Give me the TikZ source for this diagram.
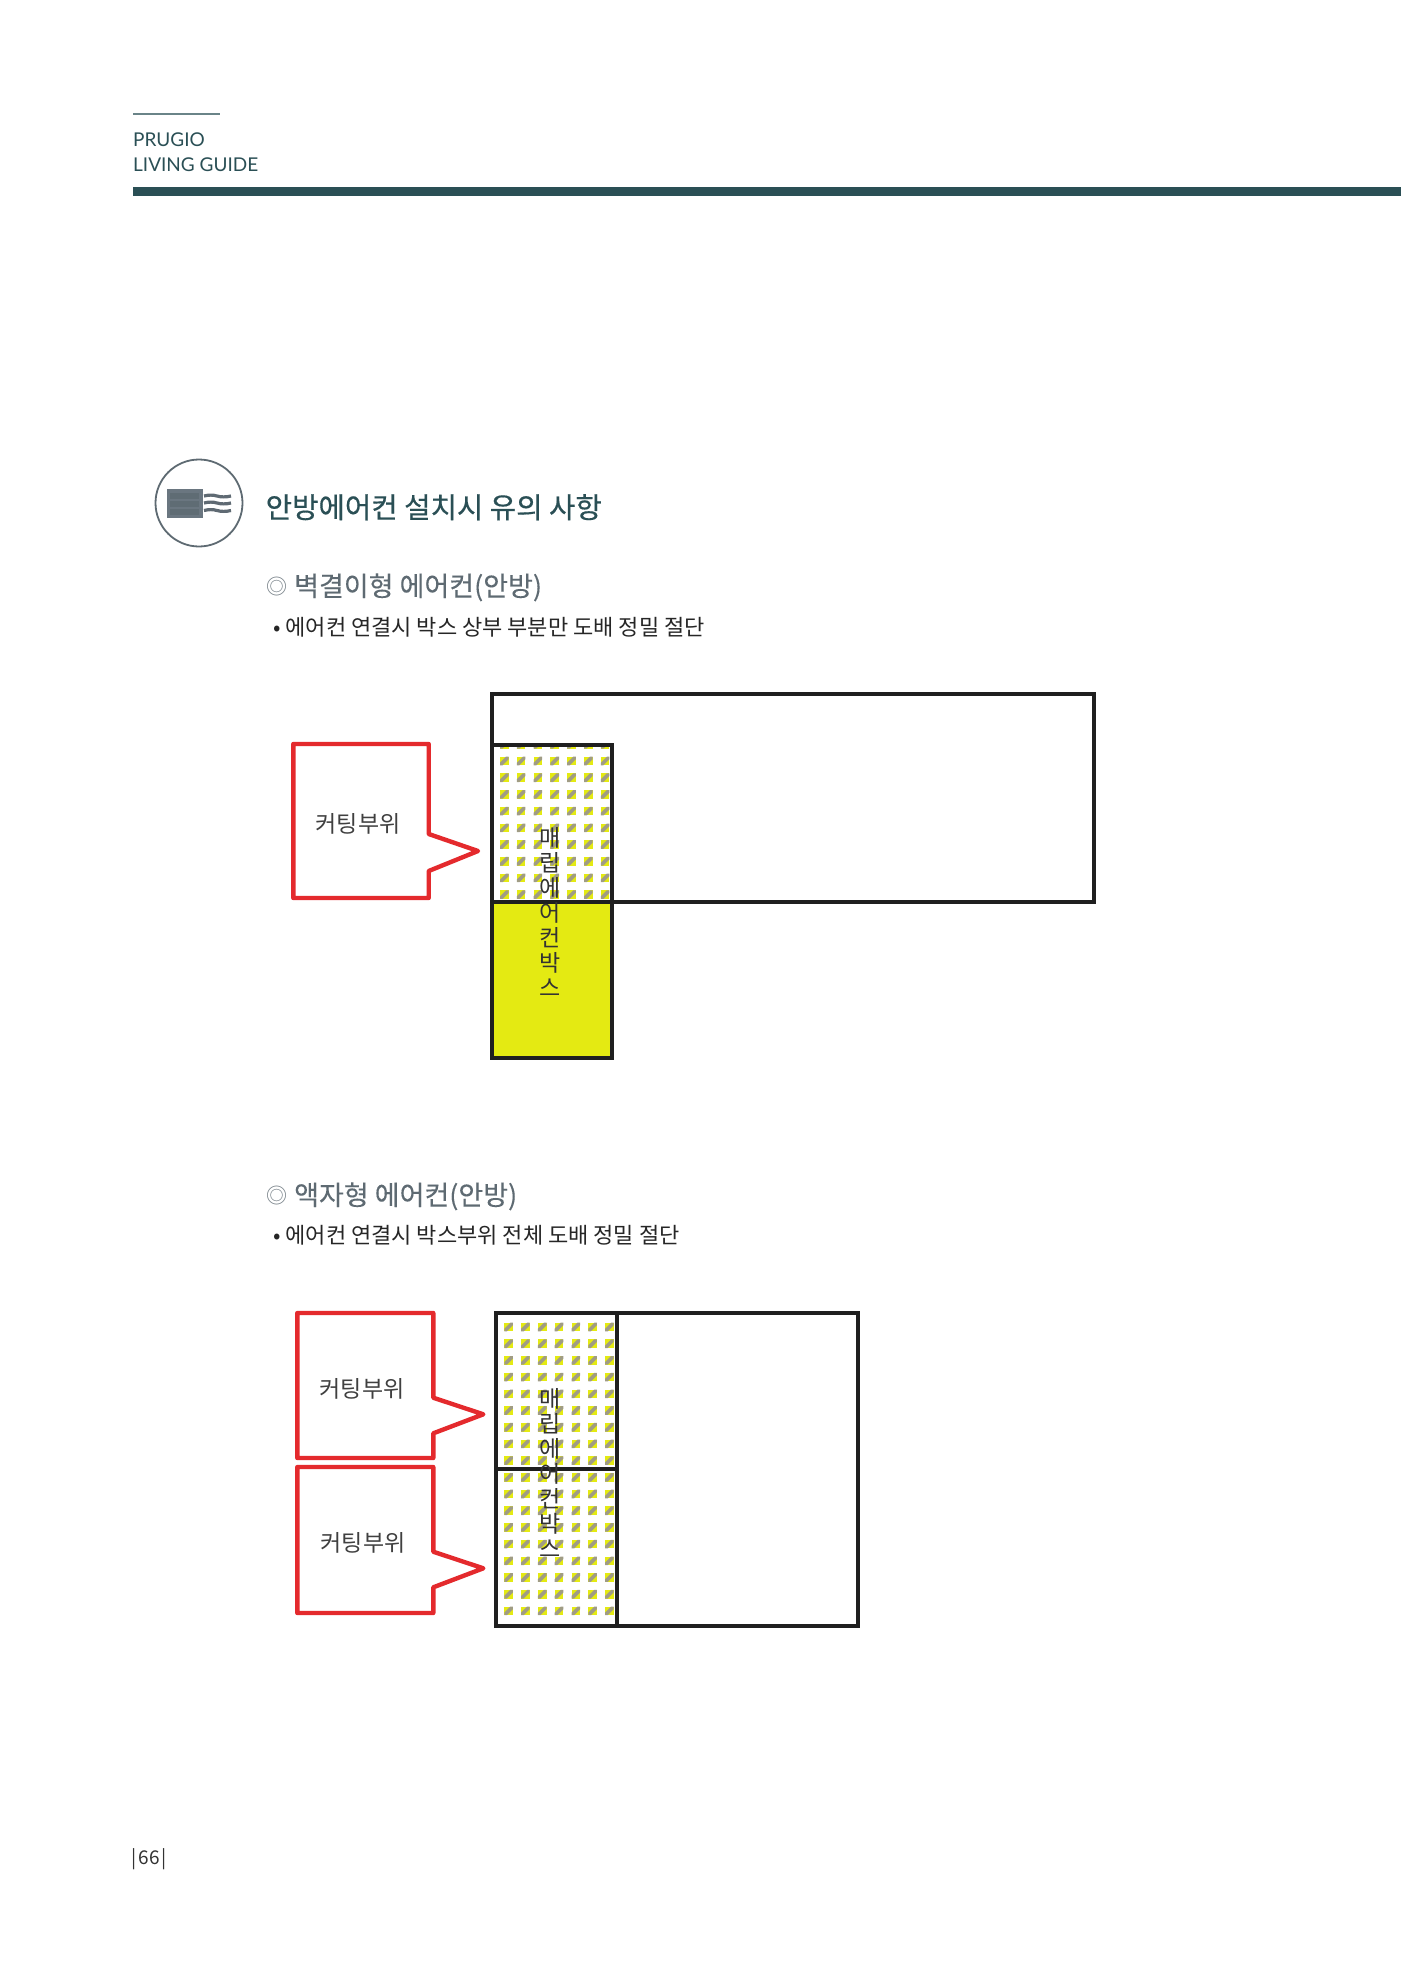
\documentclass[tikz,border=0pt]{standalone}
\usepackage{fontspec}
\setmainfont{Noto Sans CJK KR}
\newfontfamily\latinfont{Lato}
\newfontfamily\titlefont[FakeBold=0.45]{Noto Sans CJK KR}
\newfontfamily\subfont[FakeBold=0.2]{Noto Sans CJK KR}
\usetikzlibrary{calc}
\definecolor{guidegreen}{HTML}{2A4F55}
\definecolor{headgray}{HTML}{5E6A72}
\definecolor{iconslate}{HTML}{6A7680}
\definecolor{iconbar}{HTML}{5F6C74}
\definecolor{cutred}{HTML}{E42A2D}
\definecolor{boxyellow}{HTML}{E4EA12}
\definecolor{bandgray}{HTML}{A09C84}
\tikzset{
  framebox/.style={draw=black!88,line width=4pt,miter limit=10},
  cutshape/.style={draw=cutred,line width=4.4pt,line join=round,fill=white},
  cuttext/.style={font=\fontsize{23}{24}\selectfont,text=black!75,inner sep=0pt},
  boxtext/.style={font=\fontsize{23}{25}\selectfont,text=black!80,inner sep=0pt,align=center},
  headtext/.style={anchor=base west,inner sep=0pt,text=headgray,font=\subfont\fontsize{27}{30}\selectfont},
  notetext/.style={anchor=base west,inner sep=0pt,text=black!85,font=\fontsize{22}{25}\selectfont},
  wave/.style={draw=iconslate!90!black,line width=3.2pt},
  hatchcell/.pic={
    \fill[boxyellow] (0,0) rectangle (8.6,8.6);
    \fill[bandgray] (0,8.6)--(0,6)--(6,0)--(8.6,0)--(8.6,2.6)--(2.6,8.6)--cycle;
  }
}
\newcommand{\hatchfield}[4]{%
  \foreach \col in {0,...,#3}
    \foreach \row in {0,...,#4}
      \pic at ({#1+\col*16.8},{#2+\row*16.7}) {hatchcell};
}
\newcommand{\boxlabel}{매\\립\\에\\어\\컨\\박\\스}

\begin{document}
\begin{tikzpicture}[x=1pt,y=-1pt]
  \useasboundingbox (0,0) rectangle (1401,1980);

  % page head
  \draw[guidegreen!70,line width=1.4pt] (133,114)--(220,114);
  \node[anchor=base west,inner sep=0pt,text=guidegreen,font=\latinfont\fontsize{19}{25}\selectfont] (brand) at (133,146.5) {PRUGIO};
  \node[anchor=base west,inner sep=0pt,text=guidegreen,font=\latinfont\fontsize{19}{25}\selectfont] (guide) at (133,172) {LIVING GUIDE};
  \fill[guidegreen] (133,187) rectangle (1401,196);

  % icon
  \draw[headgray,line width=1.8pt] (199,503) circle (43.5);
  \fill[iconslate] (167.3,489) rectangle (202.5,517.5);
  \foreach \y in {492.5,501,509}
    \fill[iconbar] (170,\y) rectangle (198.5,\y+6);
  \foreach \y in {496,503,510.5}
    \draw[wave] (204,\y) .. controls (209,\y-1.2) and (213,\y-1.2) .. (217,\y) .. controls (221,\y+1.2) and (226,\y+1.2) .. (231,\y);

  \node[anchor=base west,inner sep=0pt,text=guidegreen,font=\titlefont\fontsize{28.7}{32}\selectfont] (title) at (265.5,518) {안방에어컨 설치시 유의 사항};

  % wall type
  \node[headtext,text=headgray!85,font=\fontsize{21}{24}\selectfont] (markA) at (266,594) {◎};
  \node[headtext] (headA) at (294,596) {벽결이형 에어컨(안방)};
  \node[notetext] (noteA) at (273,635.7) {• 에어컨 연결시 박스 상부 부분만 도배 정밀 절단};

  \fill[boxyellow] (491.7,902) rectangle (612,1058);
  \begin{scope}
    \clip (491.7,745) rectangle (612,902);
    \hatchfield{500}{740}{6}{9}
  \end{scope}
  \draw[framebox] (491.7,693.5) rectangle (1094,902);
  \draw[framebox] (491.7,745) rectangle (612,1058);
  \node[boxtext] (boxA) at (550.5,911.7) {\boxlabel};

  \draw[cutshape] (293.3,744)--(428.7,744)--(428.7,834)--(478,851)--(428.7,871)--(428.7,898)--(293.3,898)--cycle;
  \node[cuttext] (cutA) at (358,824) {커팅부위};

  % frame type
  \node[headtext,text=headgray!85,font=\fontsize{21}{24}\selectfont] (markB) at (266,1203) {◎};
  \node[headtext] (headB) at (294,1205) {액자형 에어컨(안방)};
  \node[notetext] (noteB) at (273,1243.7) {• 에어컨 연결시 박스부위 전체 도배 정밀 절단};

  \begin{scope}
    \clip (496,1312.7) rectangle (616.7,1625);
    \hatchfield{504.3}{1322.7}{6}{17}
  \end{scope}
  \draw[framebox] (496,1312.7) rectangle (858.3,1626);
  \draw[framebox] (616.7,1312.7)--(616.7,1626);
  \draw[framebox] (496,1469)--(616.7,1469);
  \node[boxtext] (boxB) at (550,1473.3) {\boxlabel};

  \draw[cutshape] (297.3,1313)--(433.3,1313)--(433.3,1397.7)--(483.3,1414.3)--(433.3,1433.3)--(433.3,1458)--(297.3,1458)--cycle;
  \node[cuttext] (cutB) at (362,1389) {커팅부위};
  \draw[cutshape] (297.3,1467)--(433.3,1467)--(433.3,1551.7)--(483.3,1568.3)--(433.3,1587.3)--(433.3,1613)--(297.3,1613)--cycle;
  \node[cuttext] (cutC) at (363,1543) {커팅부위};

  % page number
  \node[inner sep=0pt,text=black!80,font=\fontsize{19}{24}\selectfont] (page) at (149.2,1859) {|\kern2pt 66\kern2pt |};
\end{tikzpicture}
\end{document}
